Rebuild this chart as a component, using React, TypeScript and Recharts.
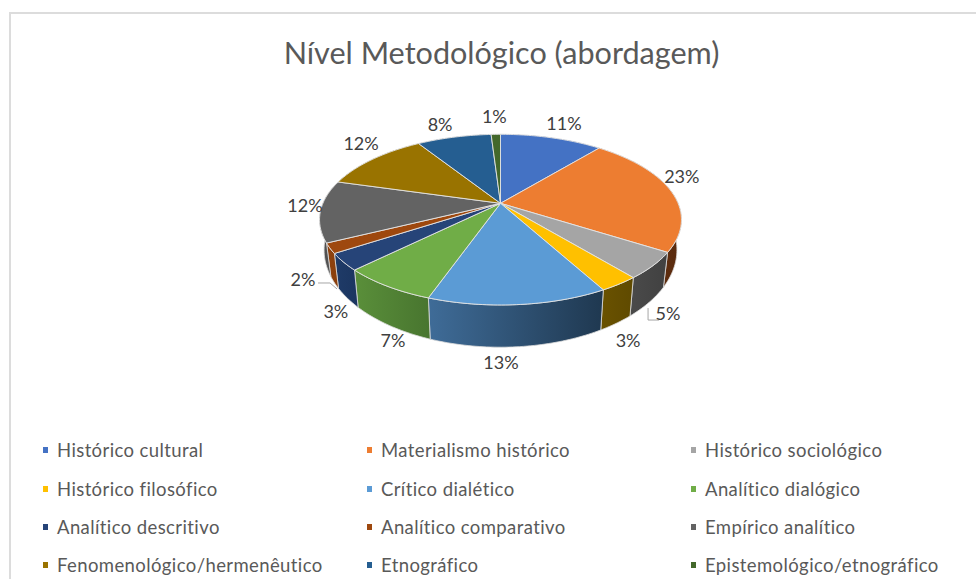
import React from "react";
import { PieChart, Pie, Legend } from "recharts";

const categories = [
  "Histórico cultural",
  "Materialismo histórico",
  "Histórico sociológico",
  "Histórico filosófico",
  "Crítico dialético",
  "Analítico dialógico",
  "Analítico descritivo",
  "Analítico comparativo",
  "Empírico analítico",
  "Fenomenológico/hermenêutico",
  "Etnográfico",
  "Epistemológico/etnográfico",
];
const values = [11, 23, 5, 3, 13.4, 7.2, 3.2, 1.9, 11.7, 11.6, 8, 1];
const topColors = ["#4472c4", "#ed7d31", "#a5a5a5", "#ffc000", "#5b9bd5", "#70ad47", "#264478", "#9e480e", "#636363", "#997300", "#255e91", "#43682b"];
const wallLeft = ["#2a4476", "#6a3210", "#4a4a4a", "#6a5200", "#3f6c98", "#5a8f3a", "#1f3b68", "#8f420e", "#4e4e4e", "#5c4500", "#163a5a", "#2a4019"];
const wallRight = ["#2a4476", "#5a2b0e", "#414141", "#5f4a00", "#1f3850", "#48752f", "#1b3560", "#8a3f0c", "#5a5a5a", "#5c4500", "#163a5a", "#2a4019"];
// Label placement relative to the rim point at each slice's mid angle.
const labelNudge: [number, number][] = [[12.5, -15], [11, -15], [15, 47.5], [9, 56], [-17.5, 57.4], [6, 54], [-7.5, 49], [-27, 30.7], [-15.5, -5.8], [-11.7, -16.3], [-14, -13], [-1.5, -18]];
const leaders: Record<number, [number, number][]> = {
  2: [[-20, -5], [-20, 7], [-9, 7]],
  7: [[15, 4], [27, 4], [34, 10]],
};

const data = categories.map((name, i) => ({ name, value: values[i], fill: topColors[i] }));

const K = 0.1916;
const Y_SCALE = 0.4628;
const project = (cx: number, cy: number, r: number, deg: number) => {
  const a = (deg * Math.PI) / 180;
  const u = Math.cos(a);
  const v = -Math.sin(a);
  const d = 1 - K * v;
  return { x: cx + (r * u) / d, y: cy + (r * Y_SCALE * v) / d };
};
const lower = (cx: number, cy: number, p: { x: number; y: number }) => ({
  x: cx + (p.x - cx) * 0.975,
  y: p.y + 28 + 0.14 * (p.y - cy),
});
const arcPoints = (cx: number, cy: number, r: number, start: number, end: number) => {
  const n = Math.max(2, Math.ceil(Math.abs(end - start)));
  return Array.from({ length: n + 1 }, (_, i) => project(cx, cy, r, start + ((end - start) * i) / n));
};
const toPath = (pts: { x: number; y: number }[]) => pts.map((p, i) => `${i ? "L" : "M"}${p.x.toFixed(2)},${p.y.toFixed(2)}`).join("");

const TopFace = (props: any) => {
  const { cx, cy, outerRadius, startAngle, endAngle, fill } = props;
  const pts = arcPoints(cx, cy, outerRadius, startAngle, endAngle);
  return <path d={`M${cx},${cy}${toPath(pts).replace("M", "L")}Z`} fill={fill} stroke="#e4e4e4" strokeWidth={0.9} strokeLinejoin="round" />;
};
const Wall = (props: any) => {
  const { cx, cy, outerRadius, startAngle, endAngle, index } = props;
  const pts = arcPoints(cx, cy, outerRadius, startAngle, endAngle);
  const low = pts.map((p) => lower(cx, cy, p)).reverse();
  return <path d={`${toPath(pts)}${toPath(low).replace("M", "L")}Z`} fill={`url(#wall${index})`} stroke="#dcdcdc" strokeWidth={0.8} strokeLinejoin="round" />;
};
const renderLabel = (props: any) => {
  const { cx, cy, outerRadius, midAngle, index, value } = props;
  const p = project(cx, cy, outerRadius, midAngle);
  const [dx, dy] = labelNudge[index];
  const x = p.x + dx;
  const y = p.y + dy;
  const leader = leaders[index];
  return (
    <g key={index}>
      {leader && <polyline points={leader.map(([a, b]) => `${x + a},${y + b}`).join(" ")} fill="none" stroke="#a6a6a6" strokeWidth={1} />}
      <text x={x} y={y} textAnchor="middle" dominantBaseline="central" fontFamily="Lato, sans-serif" fontSize={18} fill="#404040">
        {`${Math.round(value)}%`}
      </text>
    </g>
  );
};
const LegendContent = ({ payload }: any) => {
  const rows = categories.map((name) => (payload || []).find((e: any) => e.value === name)).filter(Boolean);
  return (
    <div style={{ display: "grid", gridTemplateColumns: "324px 324px 280px", gridAutoRows: "38.4px", fontFamily: "Lato, sans-serif", fontSize: 18.5, letterSpacing: 0.4, color: "#595959" }}>
      {rows.map((e: any) => (
        <div key={e.value} style={{ display: "flex", alignItems: "center", whiteSpace: "nowrap" }}>
          <span style={{ width: 5, height: 6, background: e.color, marginRight: 9, flex: "none" }} />
          {e.value}
        </div>
      ))}
    </div>
  );
};

export default function App() {
  return (
    <div style={{ position: "absolute", left: 0, top: 0, width: 976, height: 579, overflow: "hidden", background: "#fff" }}>
      <div style={{ position: "absolute", left: 9, top: 12, width: 967, height: 567, borderLeft: "2px solid #dcdcdc", borderTop: "2px solid #dcdcdc" }} />
      <PieChart width={976} height={579} margin={{ top: 0, right: 0, bottom: 0, left: 0 }} style={{ position: "absolute", left: 0, top: 0 }}>
        <defs>
          {wallLeft.map((c, i) => (
            <linearGradient key={i} id={`wall${i}`} x1="0" y1="0" x2="1" y2="0">
              <stop offset="0" stopColor={c} />
              <stop offset="1" stopColor={wallRight[i]} />
            </linearGradient>
          ))}
        </defs>
        <text x={501.5} y={52} textAnchor="middle" dominantBaseline="central" fontFamily="Lato, sans-serif" fontSize={30.6} fill="#595959">
          Nível Metodológico (abordagem)
        </text>
        <Pie data={data} dataKey="value" nameKey="name" cx={500.5} cy={203.3} outerRadius={177.6} startAngle={90} endAngle={-270} stroke="none" legendType="none" shape={Wall} isAnimationActive={false} />
        <Pie data={data} dataKey="value" nameKey="name" cx={500.5} cy={203.3} outerRadius={177.6} startAngle={90} endAngle={-270} stroke="none" shape={TopFace} label={renderLabel} labelLine={false} isAnimationActive={false} />
        <Legend content={LegendContent} itemSorter={null} wrapperStyle={{ position: "absolute", left: 43, top: 431, width: 933, height: 148, bottom: "auto" }} />
      </PieChart>
    </div>
  );
}
